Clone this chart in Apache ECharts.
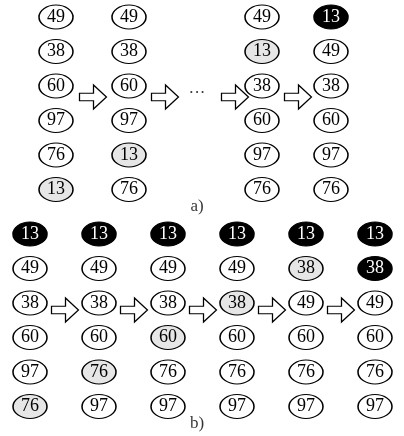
<!DOCTYPE html>
<html lang="en">
<head>
    <meta charset="UTF-8">
    <title>bubble</title>
    <script src="https://cdn.jsdelivr.net/npm/echarts@6/dist/echarts.min.js"></script>
    <style>
        html, body { margin: 0; background: #fff; }
        #main { width: 404px; height: 436px; }
    </style>
</head>
<body>
    <div id="main"></div>
    <script>
        // a) columns of values, top to bottom
        var topCols = [
            [49, 38, 60, 97, 76, 13],
            [49, 38, 60, 97, 13, 76],
            [49, 13, 38, 60, 97, 76],
            [13, 49, 38, 60, 97, 76]
        ];
        // index of the grey (moving) element, and indices of the black (settled) elements
        var topGrey = [5, 4, 1, -1];
        var topBlack = [[], [], [], [0]];

        // b) columns
        var botCols = [
            [13, 49, 38, 60, 97, 76],
            [13, 49, 38, 60, 76, 97],
            [13, 49, 38, 60, 76, 97],
            [13, 49, 38, 60, 76, 97],
            [13, 38, 49, 60, 76, 97],
            [13, 38, 49, 60, 76, 97]
        ];
        var botGrey = [5, 4, 3, 2, 1, -1];
        var botBlack = [[0], [0], [0], [0], [0], [0, 1]];

        // layout (pixels)
        var topX = [56, 129, 262, 331];
        var topY0 = 17, botY0 = 234, rowGap = 34.5;
        var botX0 = 30, botGap = 69;

        var nodes = [];
        function addCol(vals, x, y0, grey, black) {
            vals.forEach(function (v, i) {
                var kind = black.indexOf(i) >= 0 ? 'black' : (i === grey ? 'grey' : 'white');
                nodes.push({ value: [x, y0 + i * rowGap], name: String(v), kind: kind });
            });
        }
        topCols.forEach(function (c, k) { addCol(c, topX[k], topY0, topGrey[k], topBlack[k]); });
        botCols.forEach(function (c, k) { addCol(c, botX0 + k * botGap, botY0, botGrey[k], botBlack[k]); });

        var nodeData = nodes.map(function (n) {
            var fill = n.kind === 'black' ? '#000' : (n.kind === 'grey' ? '#e6e6e6' : '#fff');
            return {
                value: n.value, name: n.name,
                itemStyle: { color: fill, borderColor: '#000', borderWidth: 1.3, opacity: 1 },
                label: { color: n.kind === 'black' ? '#fff' : '#000' }
            };
        });

        var arrows = [[93, 97], [165, 97], [235, 97], [298, 97]];
        for (var k = 0; k < 5; k++) arrows.push([65 + k * botGap, 310]);

        var arrowPath = 'path://M0,9 L14,9 L14,0 L27,13 L14,26 L14,17 L0,17 Z';

        var chart = echarts.init(document.getElementById('main'));
        chart.setOption({
            animation: false,
            grid: { left: 0, right: 0, top: 0, bottom: 0 },
            xAxis: { type: 'value', min: 0, max: 404, show: false },
            yAxis: { type: 'value', min: 0, max: 436, inverse: true, show: false },
            series: [
                {
                    type: 'scatter',
                    symbol: 'circle',
                    symbolSize: [34, 24],
                    data: nodeData,
                    label: {
                        show: true, position: 'inside',
                        formatter: '{b}',
                        fontFamily: 'Liberation Serif', fontSize: 18
                    }
                },
                {
                    type: 'scatter',
                    symbol: arrowPath,
                    symbolSize: [27, 24],
                    data: arrows,
                    itemStyle: { color: '#fff', borderColor: '#000', borderWidth: 1.2, opacity: 1 }
                },
                {
                    type: 'scatter',
                    symbolSize: 0,
                    data: [
                        { value: [197, 94], name: '···' },
                        { value: [197, 207], name: 'a)' },
                        { value: [197, 424], name: 'b)' }
                    ],
                    label: {
                        show: true, position: 'inside', formatter: '{b}',
                        color: '#000', fontFamily: 'Liberation Serif', fontSize: 17
                    }
                }
            ]
        });
    </script>
</body>
</html>
